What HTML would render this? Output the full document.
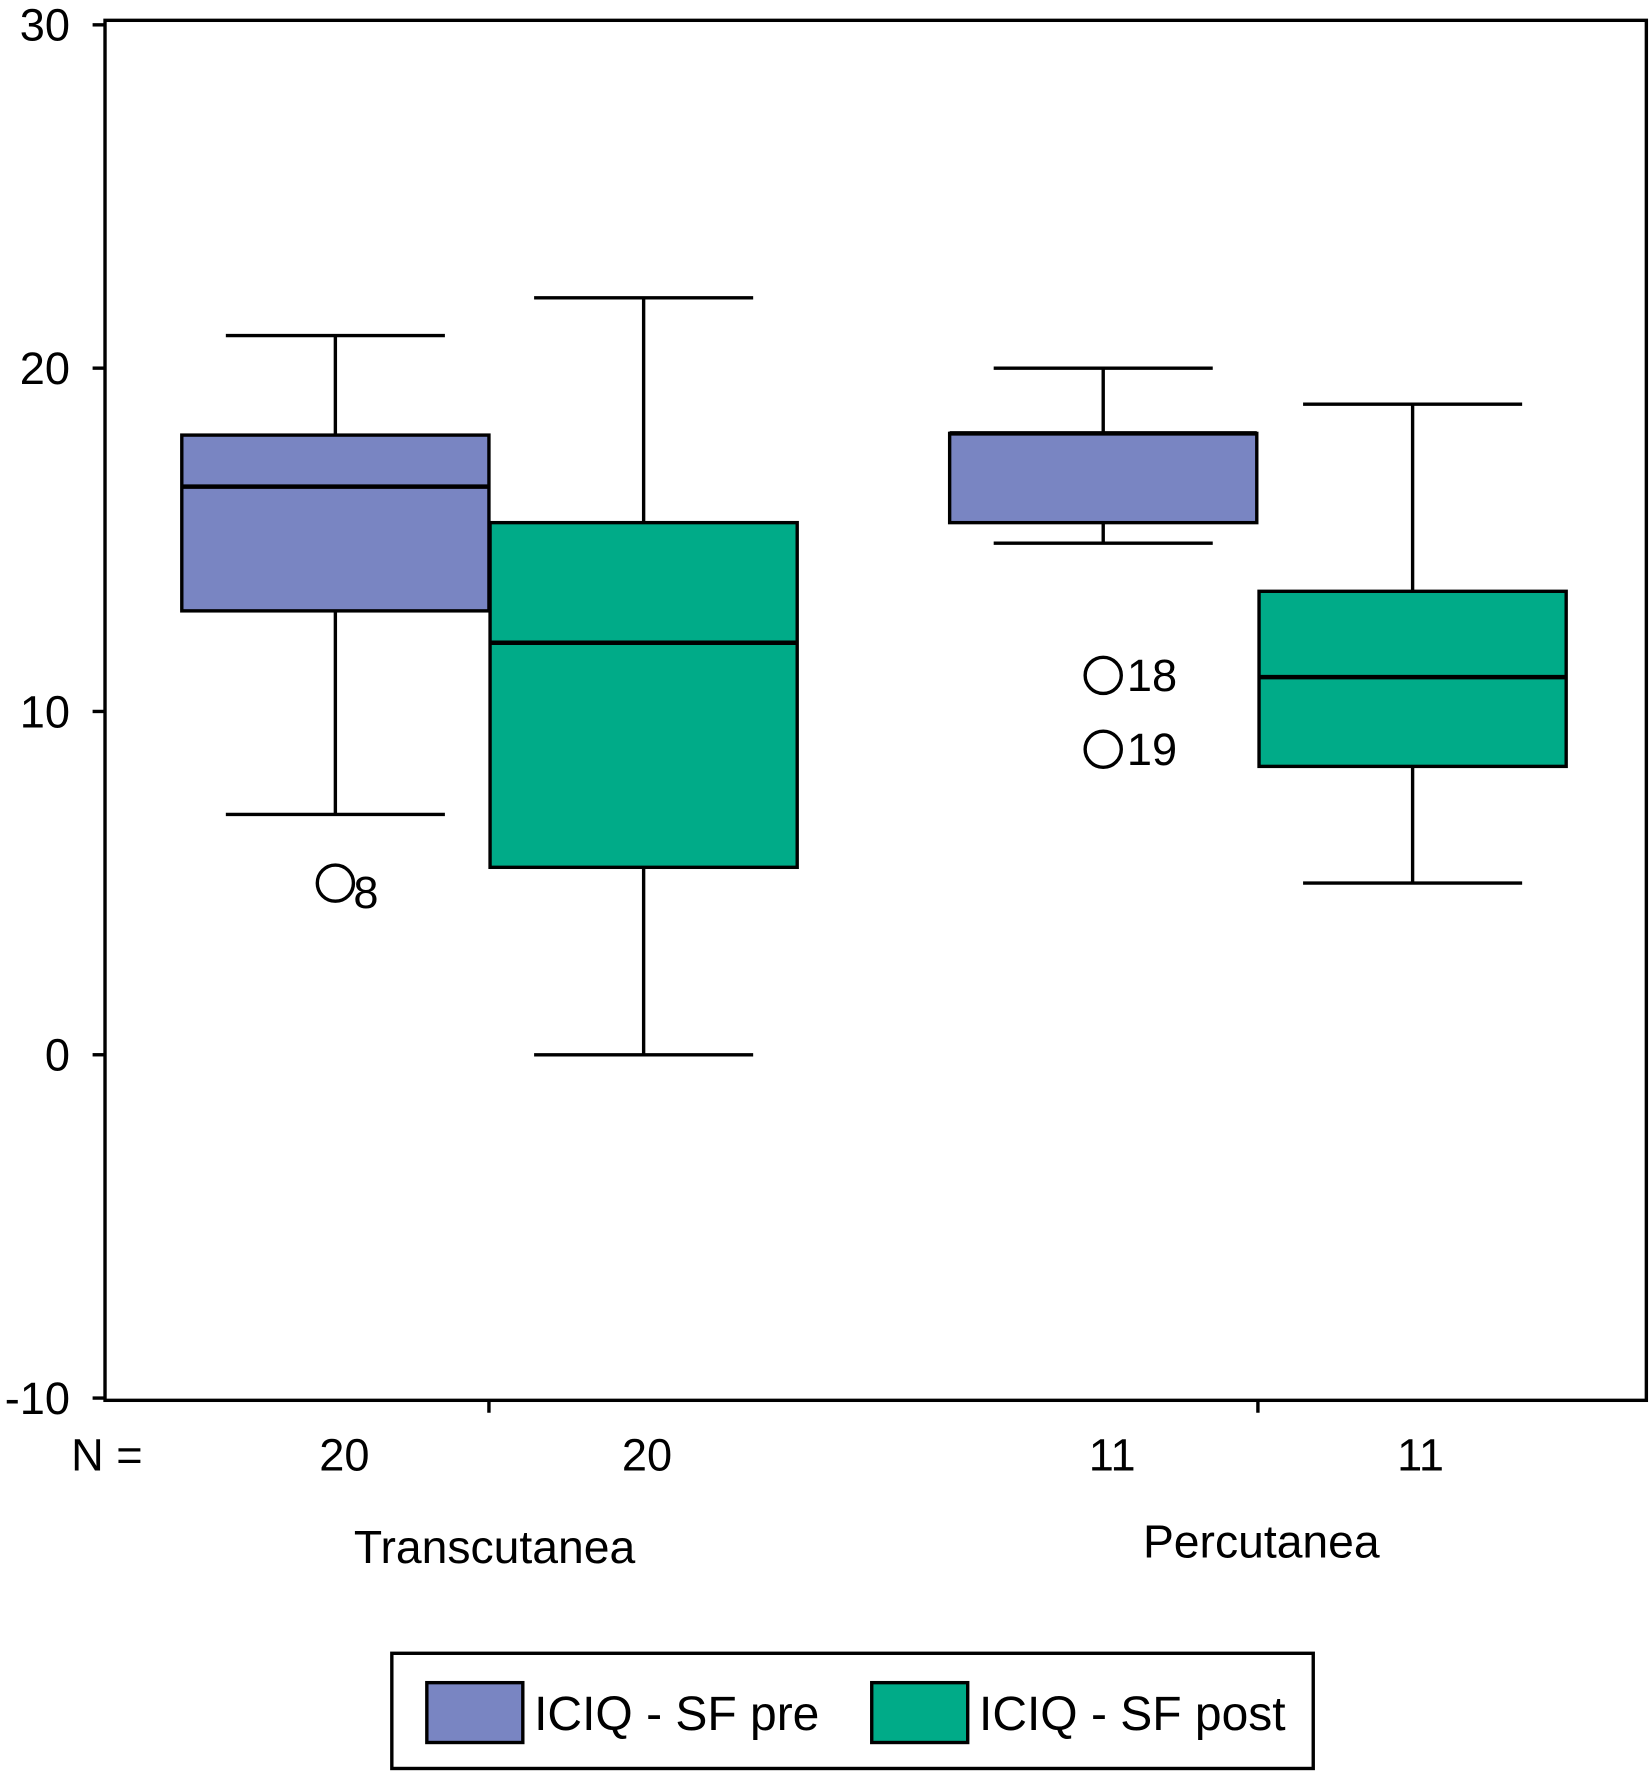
<!DOCTYPE html>
<html><head><meta charset="utf-8"><style>
html,body{margin:0;padding:0;background:#fff;}
svg{display:block;font-family:"Liberation Sans",Arial,sans-serif;}
</style></head><body>
<svg id="chart" width="1652" height="1773" viewBox="0 0 1463 1570" preserveAspectRatio="none" xmlns="http://www.w3.org/2000/svg">
<rect x="93" y="18" width="1365" height="1222" fill="#fff" stroke="#000" stroke-width="3"/>
<g id="axes"></g>
<g id="boxes"></g>
<g>
<rect x="347" y="1464" width="816" height="102" fill="#fff" stroke="#000" stroke-width="3"/>
<rect x="378" y="1490" width="85" height="53" fill="#7985c2" stroke="#000" stroke-width="3"/>
<text x="473" y="1532" font-size="42.5">ICIQ - SF pre</text>
<rect x="772" y="1490" width="85" height="53" fill="#00ab88" stroke="#000" stroke-width="3"/>
<text x="867" y="1532" font-size="42.5">ICIQ - SF post</text>
</g>
</svg>
<script>
const yTicks=[30,20,10,0,-10];
const groups=["Transcutanea","Percutanea"];
const nLabels=["20","20","11","11"];
const boxCenters=[297,570,977,1251];
const boxColors=["#7985c2","#00ab88","#7985c2","#00ab88"];
const whiskLow=[7,0,14.9,5];
const q1=[12.93,5.46,15.5,8.4];
const median=[16.55,12.0,18.1,11.0];
const q3=[18.05,15.5,18.1,13.5];
const whiskHigh=[20.95,22.05,20,18.95];
const outlierVals=[5.0,11.05,8.9];
const outlierBox=[0,2,2];
const outlierLabels=["8","18","19"];

const NS="http://www.w3.org/2000/svg";
function y(v){return 934-v*30.4;}
function mk(tag,attrs,parent,txt){const e=document.createElementNS(NS,tag);for(const k in attrs)e.setAttribute(k,attrs[k]);if(txt!==undefined)e.textContent=txt;parent.appendChild(e);return e;}
const ax=document.getElementById('axes'), bx=document.getElementById('boxes');
yTicks.forEach(t=>{
 const l=mk('line',{x1:82,x2:93,y1:y(t),y2:y(t),stroke:'#000','stroke-width':3},ax);
 
 
 const tx=mk('text',{x:62,y:y(t)+14,'font-size':40,'text-anchor':'end'},ax,String(t));
 
 
});
[433,1114].forEach(x=>{
 const l=mk('line',{x1:x,x2:x,y1:1240,y2:1251,stroke:'#000','stroke-width':3},ax);
 
 
});
const nt=mk('text',{x:63,y:1302,'font-size':40},ax,"N =");


const nX=[305,573,985,1258];
nLabels.forEach((n,i)=>{
 const t=mk('text',{x:nX[i],y:1302,'font-size':40,'text-anchor':'middle'},ax,n);
 
 
});
const gX=[438,1117],gY=[1384,1379];
groups.forEach((g,i)=>{
 const t=mk('text',{x:gX[i],y:gY[i],'font-size':41,'text-anchor':'middle'},ax,g);
 
 
});
const hw=136, cap=97;
boxCenters.forEach((c,i)=>{
 const g=mk('g',{},bx);
 
 
 const s={stroke:'#000','stroke-width':3};
 mk('line',Object.assign({x1:c,x2:c,y1:y(whiskHigh[i]),y2:y(q3[i])},s),g);
 mk('line',Object.assign({x1:c,x2:c,y1:y(q1[i]),y2:y(whiskLow[i])},s),g);
 mk('line',Object.assign({x1:c-cap,x2:c+cap,y1:y(whiskHigh[i]),y2:y(whiskHigh[i])},s),g);
 mk('line',Object.assign({x1:c-cap,x2:c+cap,y1:y(whiskLow[i]),y2:y(whiskLow[i])},s),g);
 mk('rect',{x:c-hw,y:y(q3[i]),width:hw*2,height:y(q1[i])-y(q3[i]),fill:boxColors[i],stroke:'#000','stroke-width':3},g);
 mk('line',{x1:c-hw,x2:c+hw,y1:y(median[i]),y2:y(median[i]),stroke:'#000','stroke-width':4},g);
});
outlierVals.forEach((v,i)=>{
 const c=boxCenters[outlierBox[i]];
 const o=mk('circle',{cx:c,cy:y(v),r:16,fill:'none',stroke:'#000','stroke-width':3},bx);
 
 
 const dy=i===0?22:14;
 const t=mk('text',{x:c+(i===0?16:21),y:y(v)+dy,'font-size':40},bx,outlierLabels[i]);
 
 
});
</script>
</body></html>
